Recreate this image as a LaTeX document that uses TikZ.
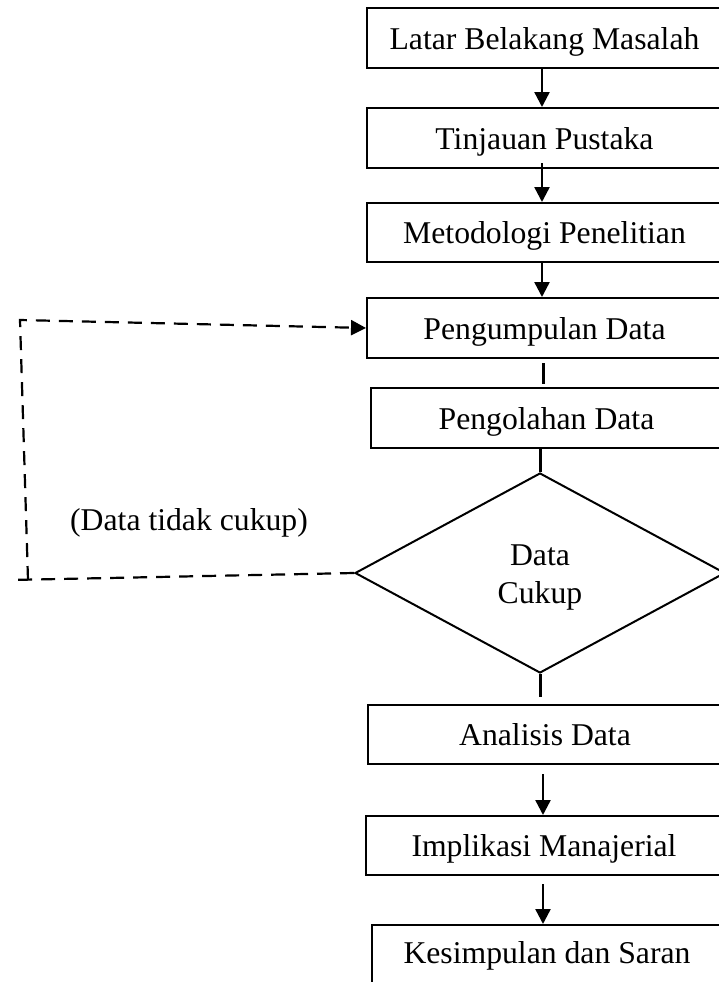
\documentclass[tikz,border=0pt]{standalone}
\usepackage{fontspec}
\setmainfont{Liberation Serif}
\usetikzlibrary{arrows.meta,shapes.geometric}
\begin{document}
\begin{tikzpicture}[x=1pt,y=-1pt,
  font=\fontsize{31.7}{38}\selectfont,
  boxnode/.style={draw,line width=2pt,inner sep=0pt,text height=25pt,text depth=3pt},
  conn/.style={line width=2.4pt},
  arr/.style={line width=2.4pt,-{Triangle[length=15pt,width=15pt]}},
  dashline/.style={line width=2.2pt,dash pattern=on 14pt off 9pt}]
\useasboundingbox (0,0) rectangle (718,982);
\coordinate (ax) at (542,0);
\coordinate (bx) at (543,0);
\node[boxnode,minimum width=355pt,minimum height=60pt] (b1) at (544.5,38) {Latar Belakang Masalah};
\node[boxnode,minimum width=355pt,minimum height=60pt] (b2) at (544.5,138) {Tinjauan Pustaka};
\node[boxnode,minimum width=355pt,minimum height=59pt] (b3) at (544.5,232.5) {Metodologi Penelitian};
\node[boxnode,minimum width=355pt,minimum height=60pt] (b4) at (544.5,328) {Pengumpulan Data};
\node[boxnode,minimum width=351pt,minimum height=60pt] (b5) at (546.5,418) {Pengolahan Data};
\node[draw,line width=2pt,diamond,aspect=1.85,minimum width=370pt,minimum height=200pt,inner sep=0pt,align=center] (dia) at (540,573) {\rule{0pt}{30pt}Data\\Cukup};
\node[boxnode,minimum width=354pt,minimum height=59pt] (b6) at (545,734.5) {Analisis Data};
\node[boxnode,minimum width=356pt,minimum height=59pt] (b7) at (544,845.5) {Implikasi Manajerial};
\node[boxnode,minimum width=350pt,minimum height=65pt,text depth=14pt] (b8) at (547,957.5) {Kesimpulan dan Saran};
\node[anchor=base] (lbl) at (189,530) {(Data tidak cukup)};
% connectors
\draw[arr] (b1.south -| ax) -- (b2.north -| ax);
\draw[arr] ([yshift=6pt]b2.south -| ax) -- (b3.north -| ax);
\draw[arr] (b3.south -| ax) -- (b4.north -| ax);
\draw[conn,line width=3pt,shorten <=4pt,shorten >=3pt] (b4.south -| bx) -- (b5.north -| bx);
\draw[conn,line width=3pt] (b5.south -| dia.north) -- (dia.north);
\draw[conn,line width=3pt,shorten >=7pt] (dia.south) -- (b6.north -| dia.south);
\draw[arr,shorten <=9pt] (b6.south -| bx) -- (b7.north -| bx);
\draw[arr,shorten <=8pt] (b7.south -| bx) -- (b8.north -| bx);
% dashed loop
\coordinate (c1) at (10,580);
\coordinate (c2) at (28,580);
\coordinate (c3) at (20,320);
\draw[dashline] (dia.west) -- (c1);
\draw[dashline,-{Triangle[length=15pt,width=15pt]}] (c2) -- (c3) -- (b4.west);
\end{tikzpicture}
\end{document}
